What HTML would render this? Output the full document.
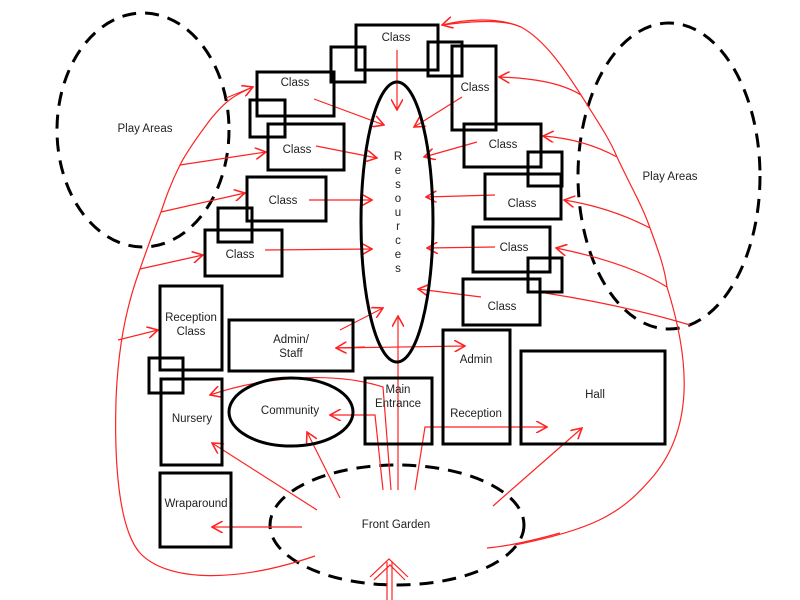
<!DOCTYPE html>
<html><head><style>
html,body{margin:0;padding:0;background:#fff;}
svg{display:block;}
text{font-family:"Liberation Sans",sans-serif;font-size:11.5px;fill:#222;text-anchor:middle;}
.b{fill:none;stroke:#000;stroke-width:3;}
.d{fill:none;stroke:#000;stroke-width:3;stroke-dasharray:14 9;}
.r{fill:none;stroke:#f22;stroke-width:1.2;}
</style></head><body>
<svg width="800" height="600" viewBox="0 0 800 600">
<defs><marker id="a" viewBox="0 0 10 10" refX="9" refY="5" markerWidth="12" markerHeight="12" orient="auto" markerUnits="userSpaceOnUse"><path d="M0,0 L9,5 L0,10" fill="none" stroke="#f22" stroke-width="1.3"/></marker></defs>

<ellipse class="d" cx="143" cy="130" rx="86" ry="117"/>
<text x="145" y="132">Play Areas</text>
<ellipse class="d" cx="669" cy="176" rx="91" ry="153"/>
<text x="670" y="180">Play Areas</text>
<ellipse class="d" cx="397" cy="525" rx="127" ry="60"/>
<text x="396" y="528">Front Garden</text>

<!-- red outer curves -->
<path class="r" d="M253,87 C235,95 226,100 210,120 C195,140 185,155 180,165 C170,185 165,200 161,212 C150,240 145,255 140,269 C125,310 118,350 116,400 C114,470 120,530 140,553 C165,580 230,585 315,556"/>
<path class="r" d="M442,25 C480,20 505,20 521,27 C545,40 565,70 581,95 C600,125 610,140 617,157 C630,185 642,205 650,228 C660,255 665,270 667,287 C690,360 695,430 650,480 C620,515 590,530 515,545"/>
<path class="r" d="M226,98 L253,87" marker-end="url(#a)"/>
<path class="r" d="M180,165 L266,152" marker-end="url(#a)"/>
<path class="r" d="M161,212 L245,193" marker-end="url(#a)"/>
<path class="r" d="M140,269 L203,255" marker-end="url(#a)"/>
<path class="r" d="M118,340 L158,330" marker-end="url(#a)"/>
<path class="r" d="M521,27 C500,18 470,18 442,25" marker-end="url(#a)"/>
<path class="r" d="M581,95 C560,82 530,78 499,77" marker-end="url(#a)"/>
<path class="r" d="M617,157 C595,145 570,138 543,136" marker-end="url(#a)"/>
<path class="r" d="M650,228 C625,215 595,205 564,200" marker-end="url(#a)"/>
<path class="r" d="M667,287 C640,270 600,257 556,248" marker-end="url(#a)"/>
<path class="r" d="M690,325 C640,310 590,300 545,293" />

<!-- classes -> resources -->
<path class="r" d="M397,50 L397,110" marker-end="url(#a)"/>
<path class="r" d="M314,99 L384,125" marker-end="url(#a)"/>
<path class="r" d="M462,97 L414,127" marker-end="url(#a)"/>
<path class="r" d="M316,146 L377,158" marker-end="url(#a)"/>
<path class="r" d="M309,200 L372,200" marker-end="url(#a)"/>
<path class="r" d="M265,250 L372,249" marker-end="url(#a)"/>
<path class="r" d="M477,142 L424,157" marker-end="url(#a)"/>
<path class="r" d="M495,195 L426,197" marker-end="url(#a)"/>
<path class="r" d="M495,247 L427,248" marker-end="url(#a)"/>
<path class="r" d="M481,297 L418,289" marker-end="url(#a)"/>

<!-- bottom arrows -->
<path class="r" d="M340,330 L383,308" marker-end="url(#a)"/>
<path class="r" d="M365,347 L336,348" marker-end="url(#a)"/>
<path class="r" d="M336,348 L465,346" marker-end="url(#a)"/>
<path class="r" d="M398,490 L398,316" marker-end="url(#a)"/>
<path class="r" d="M391,490 L383,387 C330,370 260,378 210,395" marker-end="url(#a)"/>
<path class="r" d="M383,490 L375,415 L330,415" marker-end="url(#a)"/>
<path class="r" d="M415,490 L425,427 L547,427" marker-end="url(#a)"/>
<path class="r" d="M340,498 L307,432" marker-end="url(#a)"/>
<path class="r" d="M317,510 L212,443" marker-end="url(#a)"/>
<path class="r" d="M302,527 L212,527" marker-end="url(#a)"/>
<path class="r" d="M493,506 L582,428" marker-end="url(#a)"/>
<path class="r" d="M487,548 C510,546 535,540 560,533"/>
<path class="r" d="M387,600 L387,562 M392,600 L392,562 M370,577 L389,559 L408,577 M374,580 L390,565 L405,580"/>

<!-- black boxes -->
<ellipse class="b" cx="397" cy="222" rx="36" ry="140"/>
<rect class="b" x="356" y="25" width="82" height="45"/>
<rect class="b" x="331" y="47" width="34" height="35"/>
<rect class="b" x="428" y="42" width="34" height="34"/>
<rect class="b" x="452" y="46" width="44" height="84"/>
<rect class="b" x="257" y="72" width="77" height="44"/>
<rect class="b" x="250" y="100" width="35" height="37"/>
<rect class="b" x="268" y="124" width="76" height="46"/>
<rect class="b" x="247" y="177" width="79" height="44"/>
<rect class="b" x="218" y="208" width="34" height="34"/>
<rect class="b" x="205" y="230" width="77" height="46"/>
<rect class="b" x="464" y="124" width="77" height="43"/>
<rect class="b" x="528" y="152" width="34" height="34"/>
<rect class="b" x="485" y="174" width="76" height="45"/>
<rect class="b" x="473" y="227" width="77" height="45"/>
<rect class="b" x="528" y="258" width="34" height="34"/>
<rect class="b" x="463" y="279" width="77" height="46"/>
<rect class="b" x="160" y="286" width="62" height="84"/>
<rect class="b" x="149" y="358" width="34" height="35"/>
<rect class="b" x="161" y="379" width="61" height="86"/>
<rect class="b" x="160" y="473" width="71" height="74"/>
<rect class="b" x="229" y="320" width="124" height="51"/>
<ellipse class="b" cx="291" cy="412" rx="62" ry="34"/>
<rect class="b" x="365" y="378" width="67" height="66"/>
<rect class="b" x="443" y="330" width="67" height="114"/>
<rect class="b" x="521" y="351" width="144" height="93"/>

<text x="396" y="41">Class</text>
<text x="475" y="91">Class</text>
<text x="295" y="86">Class</text>
<text x="297" y="153">Class</text>
<text x="283" y="204">Class</text>
<text x="240" y="258">Class</text>
<text x="503" y="148">Class</text>
<text x="522" y="207">Class</text>
<text x="514" y="251">Class</text>
<text x="502" y="310">Class</text>
<text x="191" y="321">Reception</text><text x="191" y="335">Class</text>
<text x="192" y="422">Nursery</text>
<text x="196" y="507">Wraparound</text>
<text x="291" y="343">Admin/</text><text x="291" y="357">Staff</text>
<text x="290" y="414">Community</text>
<text x="398" y="393">Main</text><text x="398" y="407">Entrance</text>
<text x="476" y="363">Admin</text>
<text x="476" y="417">Reception</text>
<text x="595" y="398">Hall</text>
<g>
<text x="398" y="160">R</text><text x="398" y="174">e</text><text x="398" y="188">s</text><text x="398" y="202">o</text><text x="398" y="216">u</text><text x="398" y="230">r</text><text x="398" y="244">c</text><text x="398" y="258">e</text><text x="398" y="272">s</text>
</g>
</svg>
</body></html>
